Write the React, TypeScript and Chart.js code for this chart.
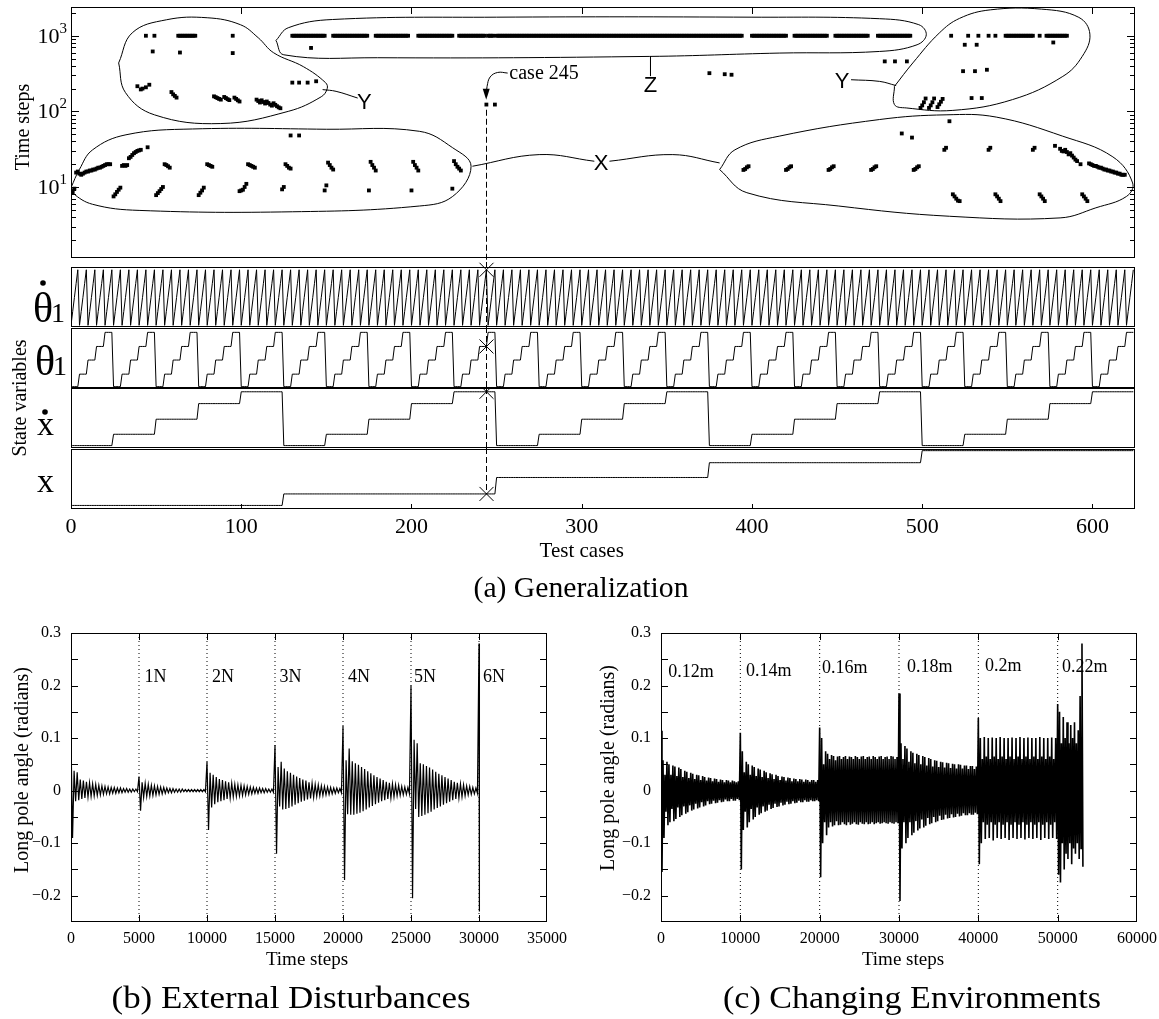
import React, { useEffect, useRef } from 'react';
import { Chart, registerables } from 'chart.js';

Chart.register(...registerables);

const SERIF = '"Liberation Serif", "Times New Roman", serif';
const SANS = '"Liberation Sans", Arial, sans-serif';

type Pt = [number, number];

/* ======================= (a) Generalization ======================= */
const testCaseCount = 625;
const caseTicks = [0, 100, 200, 300, 400, 500, 600];
const stepDecades = [10, 100, 1000];
const stepDecadeExponents = ['1', '2', '3'];
const stepMinorFactors = [2, 3, 4, 5, 6, 7, 8, 9];

// Time-step cap reached (1000 steps): inclusive runs of test cases
const capSteps = 1000;
const zGroupCapRuns: Pt[] = [
  [130, 149], [154, 174], [179, 198], [204, 224], [228, 243], [245, 248], [250, 394],
  [400, 420], [425, 444], [449, 468], [474, 493],
];
const yGroupCapRuns: Pt[] = [
  [44, 44], [49, 49], [63, 73], [95, 95],
  [517, 517], [527, 527], [533, 533], [539, 539], [543, 543], [549, 565], [569, 569], [573, 585],
];

// [test case, time steps]
const yGroupLeft: Pt[] = [
  [48, 620], [64, 600], [95, 590],
  [39, 215], [41, 195], [42, 200], [44, 208], [46, 225],
  [59, 180], [60, 168], [61, 160], [62, 152],
  [84, 158], [85, 154], [86, 150], [87, 146], [88, 143], [90, 155], [91, 150], [92, 145], [93, 141],
  [96, 152], [97, 146], [98, 140], [99, 135],
  [109, 143], [110, 137], [111, 131], [112, 140], [113, 133], [114, 127], [115, 135], [116, 129],
  [117, 123], [118, 119], [119, 128], [120, 122], [121, 117], [122, 113], [123, 110],
  [130, 240], [134, 240], [139, 240], [144, 250],
];
const yGroupRight: Pt[] = [
  [525, 760], [532, 760], [577, 815],
  [524, 340], [531, 340], [538, 355],
  [529, 150], [535, 150],
  [499, 111], [500, 120], [501, 132], [502, 148],
  [504, 111], [505, 120], [506, 132], [507, 148],
  [509, 114], [510, 124], [511, 134], [512, 146],
];
const xGroupLeft: Pt[] = [
  [0, 9], [1, 8.5], [2, 9.5], [3, 15.5], [4, 16], [5, 15], [6, 14.5], [7, 15], [8, 15.5], [9, 16],
  [10, 16], [11, 16.5], [12, 16.5], [13, 17], [14, 17], [15, 17.5], [16, 18], [17, 18], [18, 18.5],
  [19, 19], [20, 19.5], [21, 20], [22, 20], [23, 20],
  [25, 7.5], [26, 8], [27, 8.6], [28, 9.2], [29, 9.8],
  [30, 19], [31, 19.5], [32, 19], [33, 19.5],
  [34, 24], [35, 25], [36, 26.5], [37, 28], [38, 29], [39, 30], [40, 30.5], [41, 31], [45, 33.5],
  [50, 7.8], [51, 8.3], [52, 8.8], [53, 9.4], [54, 10],
  [55, 20], [56, 19.5], [57, 18.8], [58, 18],
  [75, 7.8], [76, 8.4], [77, 9], [78, 9.8],
  [80, 20], [81, 19.5], [82, 19], [83, 18.5],
  [99, 8.8], [100, 9], [101, 9.2], [102, 10], [103, 11],
  [104, 20], [105, 19.5], [106, 19], [107, 18.5], [108, 18],
  [124, 9.3], [125, 10],
  [126, 20], [127, 19], [128, 18], [129, 17.5],
  [149, 9], [150, 10.5],
  [151, 21], [152, 19.5], [153, 18], [154, 17],
  [175, 9], [176, 21.5], [177, 19.5], [178, 18], [179, 16.5],
  [200, 9], [201, 21.5], [202, 19.5], [203, 18], [204, 16.5],
  [224, 9.5], [225, 22], [226, 20], [227, 18.5], [228, 17.5], [229, 16.5],
];
const xGroupRight: Pt[] = [
  [395, 16.8], [396, 17.3], [397, 18.2], [398, 18.8],
  [420, 16.8], [421, 17.3], [422, 18.2], [423, 18.8],
  [445, 16.8], [446, 17.3], [447, 18.2], [448, 18.8],
  [470, 16.8], [471, 17.3], [472, 18.2], [473, 18.8],
  [495, 16.8], [496, 17.3], [497, 18.2], [498, 18.8],
  [513, 31], [514, 33], [539, 31], [540, 33], [565, 31], [566, 33],
  [578, 35], [581, 32], [582, 30], [583, 29.5], [584, 31], [585, 29], [586, 27], [587, 28],
  [588, 26], [589, 24.5], [590, 23], [591, 22], [593, 20],
  [598, 20.5], [599, 20], [600, 19.5], [601, 19], [602, 19], [603, 18.5], [604, 18], [605, 18],
  [606, 17.5], [607, 17], [608, 17], [609, 16.5], [610, 16.5], [611, 16], [612, 16], [613, 15.5],
  [614, 15.5], [615, 15], [616, 15], [617, 14.5], [618, 14.5], [619, 14.5],
  [518, 8], [519, 7.5], [520, 7], [521, 6.6], [522, 6.5],
  [543, 8], [544, 7.5], [545, 7], [546, 6.5],
  [569, 8], [570, 7.5], [571, 7], [572, 6.5],
  [594, 8], [595, 7.5], [596, 7], [597, 6.5],
];
const otherCases: Pt[] = [
  [129, 48], [134, 48], [141, 690], [244, 123], [249, 123],
  [375, 320], [384, 310], [388, 305], [478, 458], [484, 458], [491, 458],
  [488, 51], [494, 45], [516, 74],
];

// Hand-drawn group outlines and call-outs (test case, time steps)
const outlineYLeft: Pt[] = [[28, 437], [36, 1095], [56, 1625], [80, 1730], [99.5, 1400], [110, 940], [119, 596], [136.5, 390], [149.5, 240], [150.5, 200], [147, 156], [127.6, 100], [88, 69], [49, 90], [32, 177], [28, 437]];
const outlineYRight: Pt[] = [[483.7, 214], [494.5, 437], [510, 1085], [522, 1700], [540, 2200], [570, 2250], [592, 1750], [598.5, 1050], [594, 533], [582.6, 290], [553, 143], [518, 103], [490.6, 111], [483.7, 123], [483.7, 214]];
const outlineXLeft: Pt[] = [[0, 9.8], [4.9, 17], [12.7, 31], [32.3, 49], [71.4, 58.5], [150, 58], [204.6, 54.5], [224.2, 33], [235, 18.8], [224.2, 7.5], [204.6, 5.6], [130, 4.7], [40, 4.9], [12.7, 5.9], [1, 8.3], [0, 9.8]];
const outlineXRight: Pt[] = [[381, 17], [390, 31], [416, 47], [475, 78], [514, 90], [543.5, 84], [582.5, 47], [612, 25], [623.6, 11.3], [620, 7.5], [602, 5.3], [581, 3.9], [516, 4.1], [451, 5.6], [397, 8.4], [381, 17]];
const outlineZ: Pt[] = [[120.4, 867], [127.6, 1275], [153.6, 1640], [250, 1760], [400, 1760], [475, 1680], [498, 1400], [502.4, 1030], [497, 760], [475, 620], [416, 590], [340, 533], [180, 512], [125, 560], [120.4, 867]];
const linkYLeft: Pt[] = [[147.8, 194], [155.7, 184], [168.4, 150]];
const linkYRight: Pt[] = [[458.2, 262], [475, 249], [484.7, 219]];
const linkXLeft: Pt[] = [[235.8, 18.8], [275, 26.8], [307.4, 21.9]];
const linkXRight: Pt[] = [[316.3, 21.9], [353.5, 26.8], [381, 20.8]];
const linkZ: Pt[] = [[340.4, 533], [340.4, 290]];
const arrowCase245: Pt[] = [[256.5, 321], [250.6, 327], [246.2, 285], [244.4, 214], [244, 172]];
const arrowCase245Tip: Pt = [243.9, 142];
const groupLabels = ['Y', 'Y', 'X', 'Z'];
const groupLabelAt: Pt[] = [[172.3, 135], [453, 249], [311.4, 20.8], [340.4, 222]];
const case245Label = 'case 245';
const case245LabelAt: Pt = [257.5, 315];
const highlightedCase = 244; // "case 245" counted from 1
const highlightedFromSteps = 105;

// State variables: each of the 5 settings is held for a number of consecutive test cases
const stateCasesPerSetting = [1, 5, 25, 125]; // θ̇1, θ1, ẋ, x
const stateSettingLevels = [
  [0, 0.25, 0.5, 0.75, 1],
  [0, 0.23, 0.49, 0.74, 1],
  [0, 0.21, 0.49, 0.78, 1],
  [0, 0.21, 0.51, 0.78, 1],
];

/* ======================= (b) External Disturbances ======================= */
const bDisturbanceSteps = [5000, 10000, 15000, 20000, 25000, 30000];
const bDisturbanceLabels = ['1N', '2N', '3N', '4N', '5N', '6N'];
const bLabelSteps = [5400, 10360, 15340, 20370, 25220, 30290];
const bLabelAngles = [0.216, 0.216, 0.216, 0.216, 0.216, 0.216];
const bSegmentStarts = [0, 5000, 10000, 15000, 20000, 25000, 30000];
const bSegmentEnds = [5000, 10000, 15000, 20000, 25000, 30000, 30060];
const bPositivePeaks = [
  [0.10, 0.038, 0.035, 0.021, 0.019, 0.017, 0.015, 0.013, 0.012, 0.010, 0.009, 0.008, 0.007, 0.006, 0.006, 0.005, 0.005, 0.004, 0.004, 0.003, 0.003, 0.003],
  [0.027, 0.016, 0.014, 0.012, 0.010, 0.009, 0.008, 0.007, 0.006, 0.005, 0.004, 0.004, 0.003, 0.003, 0.003, 0.002, 0.002, 0.002, 0.002, 0.002, 0.002, 0.002],
  [0.055, 0.034, 0.03, 0.026, 0.022, 0.02, 0.018, 0.016, 0.014, 0.012, 0.011, 0.01, 0.009, 0.008, 0.007, 0.006, 0.005, 0.005, 0.004, 0.004, 0.003, 0.003],
  [0.087, 0.045, 0.055, 0.042, 0.037, 0.034, 0.03, 0.027, 0.024, 0.021, 0.019, 0.016, 0.014, 0.012, 0.011, 0.009, 0.008, 0.007, 0.006, 0.005, 0.005, 0.004],
  [0.123, 0.058, 0.08, 0.056, 0.052, 0.049, 0.045, 0.041, 0.037, 0.033, 0.029, 0.026, 0.023, 0.02, 0.017, 0.015, 0.013, 0.011, 0.01, 0.008, 0.007, 0.006],
  [0.2, 0.097, 0.09, 0.052, 0.05, 0.047, 0.044, 0.04, 0.036, 0.032, 0.029, 0.026, 0.023, 0.02, 0.017, 0.015, 0.013, 0.011, 0.009, 0.008, 0.006, 0.005],
  [0.28],
];
const bNegativePeaks = [
  [-0.09, -0.02, -0.018, -0.016, -0.014, -0.012, -0.011, -0.010, -0.009, -0.008, -0.007, -0.006, -0.006, -0.005, -0.005, -0.004, -0.004, -0.003, -0.003, -0.003, -0.002, -0.002],
  [-0.038, -0.013, -0.011, -0.010, -0.009, -0.008, -0.007, -0.006, -0.005, -0.004, -0.004, -0.003, -0.003, -0.003, -0.002, -0.002, -0.002, -0.002, -0.002, -0.002, -0.002, -0.002],
  [-0.075, -0.032, -0.026, -0.022, -0.02, -0.018, -0.016, -0.014, -0.012, -0.011, -0.01, -0.009, -0.008, -0.007, -0.006, -0.005, -0.005, -0.004, -0.004, -0.003, -0.003, -0.003],
  [-0.12, -0.03, -0.036, -0.035, -0.033, -0.03, -0.027, -0.024, -0.021, -0.019, -0.017, -0.015, -0.013, -0.011, -0.01, -0.009, -0.008, -0.007, -0.006, -0.005, -0.004, -0.004],
  [-0.17, -0.045, -0.046, -0.046, -0.044, -0.042, -0.039, -0.036, -0.032, -0.029, -0.026, -0.023, -0.02, -0.018, -0.016, -0.014, -0.012, -0.01, -0.009, -0.008, -0.007, -0.006],
  [-0.205, -0.035, -0.05, -0.048, -0.046, -0.043, -0.04, -0.036, -0.033, -0.03, -0.027, -0.024, -0.021, -0.018, -0.016, -0.014, -0.012, -0.01, -0.008, -0.007, -0.006, -0.005],
  [-0.23],
];
const bStepTicks = [0, 5000, 10000, 15000, 20000, 25000, 30000, 35000];

/* ======================= (c) Changing Environments ======================= */
const cChangeSteps = [10000, 20000, 30000, 40000, 50000];
const cPoleLabels = ['0.12m', '0.14m', '0.16m', '0.18m', '0.2m', '0.22m'];
const cLabelSteps = [900, 10700, 20300, 31000, 40850, 50550];
const cLabelAngles = [0.226, 0.228, 0.232, 0.234, 0.236, 0.234];
const cSegmentStarts = [0, 10000, 20000, 30000, 40000, 50000];
const cSegmentEnds = [10000, 20000, 30000, 40000, 50000, 53300];
const cPositivePeaks = [
  [0.114, 0.058, 0.03, 0.055, 0.05, 0.03, 0.048, 0.046, 0.028, 0.044, 0.041, 0.026, 0.038, 0.036, 0.024, 0.034, 0.032, 0.022, 0.03, 0.029, 0.02, 0.028, 0.026, 0.019, 0.025, 0.024, 0.018, 0.023, 0.022, 0.017, 0.021, 0.02, 0.016, 0.02, 0.019, 0.016, 0.019, 0.018, 0.016, 0.018],
  [0.11, 0.075, 0.035, 0.055, 0.05, 0.03, 0.048, 0.045, 0.028, 0.042, 0.04, 0.026, 0.038, 0.035, 0.024, 0.033, 0.031, 0.022, 0.03, 0.028, 0.02, 0.027, 0.026, 0.019, 0.025, 0.024, 0.018, 0.023, 0.022, 0.018, 0.022, 0.021, 0.017, 0.021, 0.02, 0.017, 0.02, 0.02, 0.017, 0.02],
  [0.12, 0.1, 0.05, 0.075, 0.07, 0.06, 0.068, 0.066, 0.058, 0.065, 0.066, 0.06, 0.064, 0.066, 0.06, 0.065, 0.064, 0.06, 0.066, 0.064, 0.06, 0.065, 0.066, 0.06, 0.064, 0.065, 0.06, 0.066, 0.064, 0.06, 0.065, 0.066, 0.06, 0.064, 0.065, 0.06, 0.066, 0.065, 0.06, 0.064],
  [0.185, 0.09, 0.06, 0.085, 0.08, 0.055, 0.075, 0.072, 0.052, 0.07, 0.068, 0.05, 0.066, 0.064, 0.048, 0.062, 0.06, 0.046, 0.058, 0.057, 0.045, 0.055, 0.054, 0.044, 0.053, 0.052, 0.043, 0.051, 0.05, 0.042, 0.05, 0.049, 0.042, 0.048, 0.048, 0.041, 0.047, 0.047, 0.041, 0.046],
  [0.138, 0.1, 0.06, 0.102, 0.065, 0.1, 0.06, 0.101, 0.065, 0.1, 0.06, 0.102, 0.065, 0.1, 0.06, 0.1, 0.065, 0.101, 0.06, 0.1, 0.065, 0.102, 0.06, 0.1, 0.065, 0.101, 0.06, 0.1, 0.065, 0.1, 0.06, 0.102, 0.065, 0.1, 0.06, 0.1, 0.065, 0.101, 0.06, 0.1],
  [0.165, 0.15, 0.09, 0.14, 0.1, 0.13, 0.09, 0.125, 0.1, 0.13, 0.09, 0.115, 0.18, 0.28],
];
const cNegativePeaks = [
  [-0.155, -0.09, -0.04, -0.066, -0.06, -0.035, -0.058, -0.054, -0.032, -0.05, -0.047, -0.03, -0.044, -0.041, -0.028, -0.038, -0.036, -0.025, -0.034, -0.032, -0.022, -0.03, -0.028, -0.02, -0.026, -0.025, -0.019, -0.024, -0.023, -0.018, -0.022, -0.021, -0.017, -0.02, -0.02, -0.016, -0.019, -0.019, -0.016, -0.018],
  [-0.15, -0.075, -0.04, -0.07, -0.06, -0.035, -0.055, -0.05, -0.032, -0.046, -0.043, -0.03, -0.04, -0.038, -0.027, -0.035, -0.033, -0.025, -0.031, -0.03, -0.023, -0.028, -0.027, -0.021, -0.026, -0.025, -0.02, -0.024, -0.023, -0.019, -0.022, -0.022, -0.018, -0.021, -0.021, -0.018, -0.02, -0.02, -0.018, -0.02],
  [-0.165, -0.1, -0.06, -0.085, -0.07, -0.06, -0.068, -0.066, -0.058, -0.066, -0.065, -0.06, -0.064, -0.066, -0.06, -0.065, -0.063, -0.06, -0.064, -0.065, -0.06, -0.063, -0.064, -0.06, -0.064, -0.063, -0.06, -0.064, -0.062, -0.06, -0.063, -0.062, -0.06, -0.062, -0.063, -0.06, -0.062, -0.063, -0.06, -0.062],
  [-0.21, -0.11, -0.06, -0.1, -0.09, -0.06, -0.085, -0.08, -0.058, -0.076, -0.072, -0.055, -0.07, -0.067, -0.052, -0.064, -0.062, -0.05, -0.06, -0.058, -0.048, -0.056, -0.055, -0.046, -0.053, -0.052, -0.045, -0.051, -0.05, -0.044, -0.049, -0.048, -0.043, -0.047, -0.047, -0.043, -0.046, -0.046, -0.042, -0.045],
  [-0.14, -0.1, -0.06, -0.092, -0.065, -0.09, -0.06, -0.095, -0.065, -0.09, -0.06, -0.092, -0.065, -0.09, -0.06, -0.094, -0.065, -0.09, -0.06, -0.092, -0.065, -0.09, -0.06, -0.093, -0.065, -0.09, -0.06, -0.092, -0.065, -0.09, -0.06, -0.094, -0.065, -0.09, -0.06, -0.092, -0.065, -0.09, -0.06, -0.092],
  [-0.16, -0.175, -0.1, -0.15, -0.12, -0.13, -0.1, -0.14, -0.11, -0.12, -0.1, -0.13, -0.11, -0.145],
];
const cStepTicks = [0, 10000, 20000, 30000, 40000, 50000, 60000];

const angleTickValues = [-0.2, -0.15, -0.1, -0.05, 0, 0.05, 0.1, 0.15, 0.2, 0.25];
const angleLabelValues = [0.3, 0.2, 0.1, 0, -0.1, -0.2];
const angleLabelTexts = ['0.3', '0.2', '0.1', '0', '\u22120.1', '\u22120.2'];

/* ======================= helpers ======================= */
const toXY = (arr: Pt[]) => arr.map(([x, y]) => ({ x, y }));
function runsToPoints(runs: Pt[], value: number) {
  const out: { x: number; y: number }[] = [];
  for (const [a, b] of runs) for (let c = a; c <= b; c++) out.push({ x: c, y: value });
  return out;
}
function peaksToSeries(starts: number[], ends: number[], ups: number[][], downs: number[][]) {
  const out: { x: number; y: number }[] = [];
  starts.forEach((s, i) => {
    const n = ups[i].length + downs[i].length;
    const dx = (ends[i] - s) / n;
    ups[i].forEach((u, k) => {
      out.push({ x: s + dx * 2 * k, y: u });
      if (k < downs[i].length) out.push({ x: s + dx * (2 * k + 1), y: downs[i][k] });
    });
  });
  return out;
}
function levelAt(k: number, c: number) {
  return stateSettingLevels[k][Math.floor(c / stateCasesPerSetting[k]) % 5];
}
function stateSeries(k: number) {
  const out: { x: number; y: number }[] = [];
  for (let c = 0; c < testCaseCount; c++) out.push({ x: c, y: levelAt(k, c) });
  return out;
}
function hline(ctx: any, x1: number, x2: number, y: number) {
  ctx.beginPath(); ctx.moveTo(x1, y); ctx.lineTo(x2, y); ctx.stroke();
}
function vline(ctx: any, x: number, y1: number, y2: number) {
  ctx.beginPath(); ctx.moveTo(x, y1); ctx.lineTo(x, y2); ctx.stroke();
}
function frame(ctx: any, a: any) {
  ctx.strokeRect(Math.round(a.left) + 0.5, Math.round(a.top) + 0.5, Math.round(a.right - a.left) - 1, Math.round(a.bottom - a.top) - 1);
}
function baseOptions(padding: { top: number; right: number; bottom: number; left: number }) {
  return {
    responsive: false,
    animation: false,
    devicePixelRatio: 1,
    events: [],
    layout: { padding },
    plugins: { legend: { display: false }, tooltip: { enabled: false }, title: { display: false } },
  };
}
const curve = (pts: Pt[], tension = 0.4) => ({
  data: toXY(pts), showLine: true, pointRadius: 0, borderColor: '#000', borderWidth: 1, tension, fill: false,
});

/* ======================= chart builders ======================= */
function buildScatter() {
  const pointData = [
    ...runsToPoints(zGroupCapRuns, capSteps),
    ...runsToPoints(yGroupCapRuns, capSteps),
    ...toXY(yGroupLeft), ...toXY(yGroupRight), ...toXY(xGroupLeft), ...toXY(xGroupRight), ...toXY(otherCases),
  ];
  const decor = {
    id: 'scatterDecor',
    afterDatasetsDraw(chart: any) {
      const { ctx, chartArea: a, scales } = chart;
      const xs = scales.x, ys = scales.y;
      ctx.save();
      ctx.strokeStyle = '#000'; ctx.fillStyle = '#000'; ctx.lineWidth = 1;
      frame(ctx, a);
      for (const base of [1, 10, 100, 1000]) {
        for (const f of [1, ...stepMinorFactors]) {
          const v = base * f;
          if (v <= ys.min || v >= ys.max) continue;
          const py = Math.round(ys.getPixelForValue(v)) + 0.5;
          const len = f === 1 ? 8 : 5;
          hline(ctx, a.left, a.left + len, py);
          hline(ctx, a.right - len, a.right, py);
        }
      }
      ctx.textAlign = 'right'; ctx.textBaseline = 'alphabetic';
      stepDecades.forEach((d, i) => {
        const py = ys.getPixelForValue(d);
        ctx.font = `15px ${SERIF}`;
        const supW = ctx.measureText(stepDecadeExponents[i]).width;
        ctx.fillText(stepDecadeExponents[i], a.left - 4, py - 3);
        ctx.font = `22px ${SERIF}`;
        ctx.fillText('10', a.left - 4 - supW, py + 7);
      });
      for (const t of caseTicks) {
        if (t <= xs.min || t >= xs.max) continue;
        const px = Math.round(xs.getPixelForValue(t)) + 0.5;
        vline(ctx, px, a.top, a.top + 7);
      }
      // dashed marker for case 245
      const hx = Math.round(xs.getPixelForValue(highlightedCase)) + 0.5;
      ctx.setLineDash([6, 3]);
      vline(ctx, hx, ys.getPixelForValue(highlightedFromSteps), chart.height);
      ctx.setLineDash([]);
      // arrow head
      const tx = xs.getPixelForValue(arrowCase245Tip[0]);
      const ty = ys.getPixelForValue(arrowCase245Tip[1]);
      ctx.beginPath(); ctx.moveTo(tx, ty); ctx.lineTo(tx - 3.5, ty - 11); ctx.lineTo(tx + 3.5, ty - 11); ctx.closePath(); ctx.fill();
      // labels
      ctx.font = `20px ${SERIF}`; ctx.textAlign = 'left'; ctx.textBaseline = 'middle';
      ctx.fillText(case245Label, xs.getPixelForValue(case245LabelAt[0]), ys.getPixelForValue(case245LabelAt[1]));
      ctx.font = `22px ${SANS}`; ctx.textAlign = 'center';
      groupLabels.forEach((s, i) => {
        const px = xs.getPixelForValue(groupLabelAt[i][0]);
        const py = ys.getPixelForValue(groupLabelAt[i][1]);
        ctx.fillStyle = '#fff';
        ctx.fillRect(px - 6, py - 9, 12, 18);
        ctx.fillStyle = '#000';
        ctx.fillText(s, px, py + 1);
      });
      ctx.restore();
    },
  };
  return {
    type: 'scatter',
    data: {
      datasets: [
        { data: pointData, pointStyle: 'rect', pointRadius: 2.7, pointBackgroundColor: '#000', backgroundColor: '#000', pointBorderWidth: 0, borderWidth: 0, showLine: false },
        curve(outlineYLeft), curve(outlineYRight), curve(outlineXLeft), curve(outlineXRight), curve(outlineZ),
        curve(linkYLeft), curve(linkYRight), curve(linkXLeft), curve(linkXRight), curve(linkZ, 0), curve(arrowCase245),
      ],
    },
    options: {
      ...baseOptions({ top: 7, right: 24, bottom: 1, left: 71 }),
      scales: {
        x: { type: 'linear', min: 0, max: testCaseCount, display: false },
        y: { type: 'logarithmic', min: 1.15, max: 2400, display: false },
      },
    },
    plugins: [decor],
  };
}

const stripRanges: Pt[] = [[-0.03, 1.05], [-0.025, 1.08], [-0.045, 1.07], [-0.065, 1.03]];

function buildStrip(k: number, padding: any, isLast: boolean) {
  const decor = {
    id: 'stripDecor',
    afterDatasetsDraw(chart: any) {
      const { ctx, chartArea: a, scales } = chart;
      const xs = scales.x, ys = scales.y;
      ctx.save();
      ctx.strokeStyle = '#000'; ctx.fillStyle = '#000'; ctx.lineWidth = 1;
      frame(ctx, a);
      const px = Math.round(xs.getPixelForValue(highlightedCase)) + 0.5;
      const cy = ys.getPixelForValue(levelAt(k, highlightedCase));
      ctx.setLineDash([6, 3]);
      vline(ctx, px, 0, isLast ? cy : chart.height);
      ctx.setLineDash([]);
      const s = 7;
      ctx.beginPath();
      ctx.moveTo(px - s, cy - s); ctx.lineTo(px + s, cy + s);
      ctx.moveTo(px + s, cy - s); ctx.lineTo(px - s, cy + s);
      ctx.stroke();
      if (isLast) {
        ctx.font = `22px ${SERIF}`; ctx.textAlign = 'center'; ctx.textBaseline = 'alphabetic';
        for (const t of caseTicks) {
          const tx = Math.round(xs.getPixelForValue(t)) + 0.5;
          if (t > xs.min && t < xs.max) vline(ctx, tx, a.bottom - 5, a.bottom);
          ctx.fillText(String(t), xs.getPixelForValue(t), a.bottom + 24);
        }
        ctx.font = `21px ${SERIF}`;
        ctx.fillText('Test cases', xs.getPixelForValue(300), a.bottom + 48);
      }
      ctx.restore();
    },
  };
  return {
    type: 'scatter',
    data: { datasets: [{ data: stateSeries(k), showLine: true, pointRadius: 0, borderColor: '#000', borderWidth: 1, tension: 0 }] },
    options: {
      ...baseOptions(padding),
      scales: {
        x: { type: 'linear', min: 0, max: testCaseCount, display: false },
        y: { type: 'linear', min: stripRanges[k][0], max: stripRanges[k][1], display: false },
      },
    },
    plugins: [decor],
  };
}

function buildAngle(cfg: {
  starts: number[]; ends: number[]; ups: number[][]; downs: number[][]; xMax: number; xTicks: number[];
  markers: number[]; labels: string[]; labelSteps: number[]; labelAngles: number[]; padding: any; lineWidth: number;
}) {
  const decor = {
    id: 'angleDecor',
    afterDatasetsDraw(chart: any) {
      const { ctx, chartArea: a, scales } = chart;
      const xs = scales.x, ys = scales.y;
      ctx.save();
      ctx.strokeStyle = '#000'; ctx.fillStyle = '#000'; ctx.lineWidth = 1;
      frame(ctx, a);
      for (const v of angleTickValues) {
        const py = Math.round(ys.getPixelForValue(v)) + 0.5;
        hline(ctx, a.left, a.left + 7, py);
        hline(ctx, a.right - 7, a.right, py);
      }
      for (const v of cfg.xTicks) {
        if (v <= xs.min || v >= xs.max) continue;
        const px = Math.round(xs.getPixelForValue(v)) + 0.5;
        vline(ctx, px, a.top, a.top + 7);
        vline(ctx, px, a.bottom - 7, a.bottom);
      }
      ctx.font = `16px ${SERIF}`;
      ctx.textAlign = 'right'; ctx.textBaseline = 'middle';
      angleLabelValues.forEach((v, i) => ctx.fillText(angleLabelTexts[i], a.left - 10, ys.getPixelForValue(v)));
      ctx.textAlign = 'center'; ctx.textBaseline = 'alphabetic';
      for (const v of cfg.xTicks) ctx.fillText(String(v), xs.getPixelForValue(v), a.bottom + 21);
      ctx.font = `18px ${SERIF}`; ctx.textAlign = 'left'; ctx.textBaseline = 'middle';
      cfg.labels.forEach((s, i) => ctx.fillText(s, xs.getPixelForValue(cfg.labelSteps[i]), ys.getPixelForValue(cfg.labelAngles[i])));
      ctx.restore();
    },
  };
  const markerSets = cfg.markers.map((m) => ({
    data: [{ x: m, y: -0.25 }, { x: m, y: 0.3 }], showLine: true, pointRadius: 0, borderColor: '#000', borderWidth: 1, borderDash: [1, 3], tension: 0,
  }));
  return {
    type: 'scatter',
    data: {
      datasets: [
        ...markerSets,
        { data: peaksToSeries(cfg.starts, cfg.ends, cfg.ups, cfg.downs), showLine: true, pointRadius: 0, borderColor: '#000', borderWidth: cfg.lineWidth, tension: 0 },
      ],
    },
    options: {
      ...baseOptions(cfg.padding),
      scales: {
        x: { type: 'linear', min: 0, max: cfg.xMax, display: false },
        y: { type: 'linear', min: -0.25, max: 0.3, display: false },
      },
    },
    plugins: [decor],
  };
}

/* ======================= components ======================= */
function ChartCanvas({ left, top, width, height, build }: { left: number; top: number; width: number; height: number; build: () => any }) {
  const ref = useRef<HTMLCanvasElement>(null);
  useEffect(() => {
    const chart = new Chart(ref.current as HTMLCanvasElement, build());
    return () => chart.destroy();
  }, []);
  return (
    <canvas ref={ref} width={width} height={height}
      style={{ position: 'absolute', left, top, width, height, display: 'block' }} />
  );
}

export default function App() {
  const serif = 'Liberation Serif, Times New Roman, serif';
  return (
    <div style={{ position: 'absolute', left: 0, top: 0, width: 1159, height: 1019, background: '#fff', overflow: 'hidden' }}>
      <ChartCanvas left={0} top={0} width={1159} height={262} build={buildScatter} />
      <ChartCanvas left={0} top={262} width={1159} height={65} build={() => buildStrip(0, { top: 5, right: 24, bottom: 0, left: 71 }, false)} />
      <ChartCanvas left={0} top={327} width={1159} height={61} build={() => buildStrip(1, { top: 1, right: 24, bottom: 0, left: 71 }, false)} />
      <ChartCanvas left={0} top={388} width={1159} height={60} build={() => buildStrip(2, { top: 0, right: 24, bottom: 0, left: 71 }, false)} />
      <ChartCanvas left={0} top={448} width={1159} height={152} build={() => buildStrip(3, { top: 1, right: 24, bottom: 91, left: 71 }, true)} />
      <ChartCanvas left={0} top={600} width={580} height={419} build={() => buildAngle({
        starts: bSegmentStarts, ends: bSegmentEnds, ups: bPositivePeaks, downs: bNegativePeaks, xMax: 35000, xTicks: bStepTicks,
        markers: bDisturbanceSteps, labels: bDisturbanceLabels, labelSteps: bLabelSteps, labelAngles: bLabelAngles,
        padding: { top: 33, right: 33, bottom: 97, left: 71 }, lineWidth: 1.2,
      })} />
      <ChartCanvas left={580} top={600} width={579} height={419} build={() => buildAngle({
        starts: cSegmentStarts, ends: cSegmentEnds, ups: cPositivePeaks, downs: cNegativePeaks, xMax: 60000, xTicks: cStepTicks,
        markers: cChangeSteps, labels: cPoleLabels, labelSteps: cLabelSteps, labelAngles: cLabelAngles,
        padding: { top: 33, right: 22, bottom: 97, left: 81 }, lineWidth: 1.6,
      })} />
      <svg width={1159} height={1019} style={{ position: 'absolute', left: 0, top: 0, pointerEvents: 'none' }} fontFamily={serif}>
        <text transform="translate(22,127) rotate(-90)" textAnchor="middle" dominantBaseline="central" fontSize={20}>Time steps</text>
        <text transform="translate(19,398) rotate(-90)" textAnchor="middle" dominantBaseline="central" fontSize={20}>State variables</text>
        <text x={33} y={322} fontSize={42}>θ</text>
        <text x={51} y={322} fontSize={28}>1</text>
        <circle cx={43} cy={283} r={2.8} fill="#000" />
        <text x={35} y={375} fontSize={42}>θ</text>
        <text x={53} y={375} fontSize={28}>1</text>
        <text x={37} y={435} fontSize={34}>x</text>
        <circle cx={45} cy={412} r={2.8} fill="#000" />
        <text x={37} y={492} fontSize={34}>x</text>
        <text x={581} y={597} textAnchor="middle" fontSize={30} textLength={215} lengthAdjust="spacingAndGlyphs">(a) Generalization</text>
        <text transform="translate(21,770) rotate(-90)" textAnchor="middle" dominantBaseline="central" fontSize={20}>Long pole angle  (radians)</text>
        <text x={307} y={965} textAnchor="middle" fontSize={19}>Time steps</text>
        <text x={291} y={1008} textAnchor="middle" fontSize={32} textLength={359} lengthAdjust="spacingAndGlyphs">(b) External Disturbances</text>
        <text transform="translate(607,768) rotate(-90)" textAnchor="middle" dominantBaseline="central" fontSize={20}>Long pole angle  (radians)</text>
        <text x={903} y={965} textAnchor="middle" fontSize={19}>Time steps</text>
        <text x={912} y={1008} textAnchor="middle" fontSize={32} textLength={378} lengthAdjust="spacingAndGlyphs">(c) Changing Environments</text>
      </svg>
    </div>
  );
}
